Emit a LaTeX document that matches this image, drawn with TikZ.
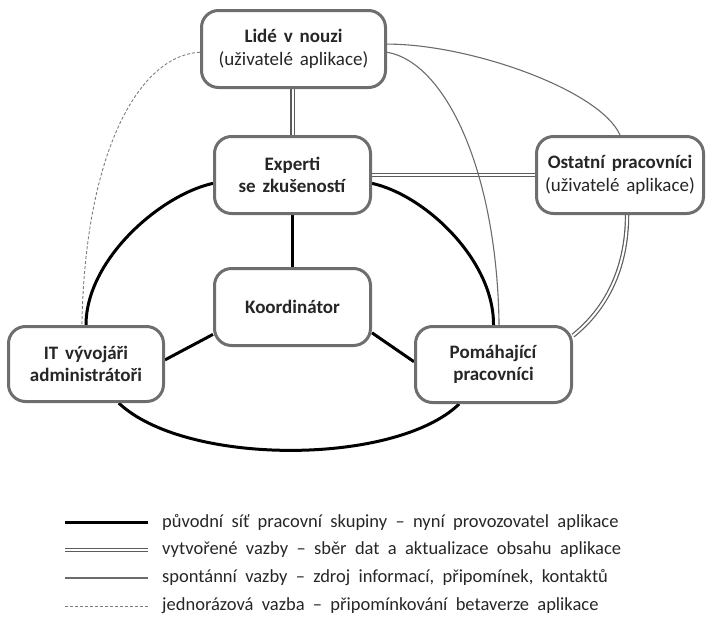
\documentclass[tikz,border=0pt]{standalone}
\usepackage{fontspec}
\setmainfont{Carlito}
\usetikzlibrary{positioning,backgrounds}
\definecolor{ramec}{HTML}{6E6E6E}
\definecolor{sedy}{HTML}{5C5C5C}
\definecolor{pismo}{HTML}{262626}
\newcommand\pismouzlu{\fontsize{19}{22.5}\selectfont\spaceskip=0.36em plus 0.1em\relax}
\newcommand\pismolegendy{\fontsize{18.5}{21}\selectfont\spaceskip=0.45em plus 0.1em\relax}
\tikzset{
  uzel/.style={draw=ramec,line width=3pt,rounded corners=17pt,fill=white,align=center,
    inner sep=2pt,text=pismo,font=\pismouzlu},
  puvodni/.style={line width=3pt,black},
  vazba/.style={draw=sedy,double=white,line width=1.2pt,double distance=2pt},
  spont/.style={draw=sedy!90,line width=1.1pt},
  jedno/.style={draw=sedy!80,line width=0.9pt,dash pattern=on 3pt off 2pt},
  popis/.style={anchor=west,inner sep=0pt,text=pismo,font=\pismolegendy},
}

\begin{document}
\begin{tikzpicture}[x=1pt,y=-1pt]
  \useasboundingbox (0,0) rectangle (708,632);
  \node[uzel,minimum width=184pt,minimum height=77pt] (lide) at (293.5,49) {\textbf{Lidé v nouzi}\\(uživatelé aplikace)};
  \node[uzel,minimum width=156pt,minimum height=77pt] (expert) at (292.5,175) {\textbf{Experti}\\\textbf{se zkušeností}};
  \node[uzel,minimum width=167pt,minimum height=77pt] (ostatni) at (620,175) {\textbf{Ostatní pracovníci}\\(uživatelé aplikace)};
  \node[uzel,minimum width=156pt,minimum height=77pt] (koord) at (292.5,307) {\textbf{Koordinátor}};
  \node[uzel,minimum width=155pt,minimum height=75pt] (it) at (86,364) {\textbf{IT vývojáři}\\\textbf{administrátoři}};
  \node[uzel,minimum width=156pt,minimum height=76pt] (pom) at (493.5,364.5) {\textbf{Pomáhající}\\\textbf{pracovníci}};

  \begin{scope}[on background layer]
    % puvodni sit
    \draw[puvodni] (expert.south) -- (koord.north);
    \draw[puvodni] (koord.199) -- (it.3);
    \draw[puvodni] (koord.-18) -- (pom.178);
    \draw[puvodni] (expert.186) .. controls (160,195) and (86,260) .. (it.north);
    \draw[puvodni] (expert.-6) .. controls (425,195) and (494,260) .. (pom.north);
    \draw[puvodni] (it.-50) .. controls (185,466) and (395,466) .. (pom.229);
    % vytvorene vazby
    \draw[vazba] (expert.north) -- (expert.north |- lide.south);
    \draw[vazba] (expert.east) -- (expert.east -| ostatni.west);
    \draw[vazba] (ostatni.-80) .. controls (627,270) and (605,310) .. (pom.20);
    % spontanni a jednorazove
    \draw[spont] (lide.3) .. controls (470,44) and (600,90) .. (ostatni.north);
    \draw[spont] (lide.-2) .. controls (445,62) and (497,170) .. (pom.82);
    \draw[jedno] (lide.182) .. controls (140,55) and (85,150) .. (it.96);
  \end{scope}

  % legenda
  \node[popis] (l1) at (162,522) {původní síť pracovní skupiny – nyní provozovatel aplikace};
  \node[popis] (l2) at (162,550) {vytvořené vazby – sběr dat a aktualizace obsahu aplikace};
  \node[popis] (l3) at (162,578) {spontánní vazby – zdroj informací, připomínek, kontaktů};
  \node[popis] (l4) at (162,606) {jednorázová vazba – připomínkování betaverze aplikace};
  \draw[puvodni] ([xshift=-14pt]l1.west) -- ++(-83,0);
  \draw[vazba] ([xshift=-14pt]l2.west) -- ++(-83,0);
  \draw[spont] ([xshift=-14pt]l3.west) -- ++(-83,0);
  \draw[jedno] ([xshift=-14pt]l4.west) -- ++(-83,0);
\end{tikzpicture}
\end{document}
